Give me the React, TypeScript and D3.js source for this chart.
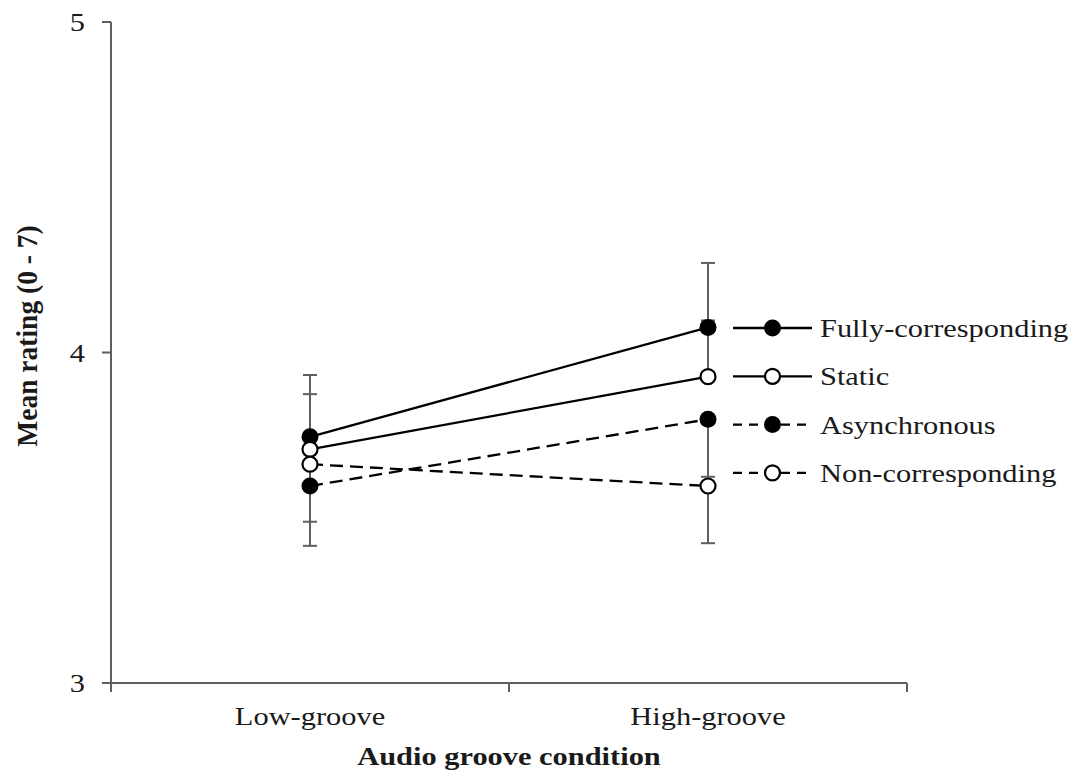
import * as d3 from 'd3';
import { type FC } from 'react';

// groove conditions on the x axis
const conditions = ['Low-groove', 'High-groove'];

// mean ratings
const fullyMeans = [3.745, 4.076];
const staticMeans = [3.707, 3.927];
const asyncMeans = [3.596, 3.798];
const nonCorrMeans = [3.662, 3.596];

// one-sided error bars (upper for solid series, lower for dashed)
const fullyErr = [0.187, 0.195];
const staticErr = [0.167, 0.17];
const asyncErr = [0.181, 0.174];
const nonCorrErr = [0.174, 0.173];

const yTicks = [3, 4, 5];

interface Series {
  name: string;
  means: number[];
  err: number[];
  errDir: 1 | -1;
  filled: boolean;
  dashed: boolean;
}

const series: Series[] = [
  { name: 'Fully-corresponding', means: fullyMeans, err: fullyErr, errDir: 1, filled: true, dashed: false },
  { name: 'Static', means: staticMeans, err: staticErr, errDir: 1, filled: false, dashed: false },
  { name: 'Asynchronous', means: asyncMeans, err: asyncErr, errDir: -1, filled: true, dashed: true },
  { name: 'Non-corresponding', means: nonCorrMeans, err: nonCorrErr, errDir: -1, filled: false, dashed: true },
];

const W = 1076;
const H = 771;
const SX = 1.17; // the original figure is stretched horizontally
const FONT = '"Liberation Serif", "Times New Roman", serif';
const AXIS = '#5f5f5f';
const INK = '#1a1a1a';
const DASH = '13,7';

const App: FC = () => {
  const x = d3.scaleBand<string>().domain(conditions).range([111, 907]).padding(0);
  const y = d3.scaleLinear().domain([3, 5]).range([683, 22]);
  const cx = (c: string) => (x(c) ?? 0) + x.bandwidth() / 2;

  const line = d3
    .line<number>()
    .x((_, i) => cx(conditions[i]))
    .y((d) => y(d));

  const legendX0 = 733;
  const legendX1 = 812;
  const legendY0 = 328;
  const legendStep = 48.3;

  const marker = (s: Series, px: number, py: number, key: string) => (
    <circle
      key={key}
      cx={px}
      cy={py}
      r={s.filled ? 8.5 : 7.5}
      fill={s.filled ? '#000' : '#fff'}
      stroke="#000"
      strokeWidth={s.filled ? 0 : 2.2}
    />
  );

  return (
    <svg
      width={W}
      height={H}
      style={{ position: 'absolute', left: 0, top: 0, background: '#fff' }}
      fontFamily={FONT}
    >
      {/* y axis */}
      <line x1={111} x2={111} y1={y(5)} y2={y(3) + 9} stroke={AXIS} strokeWidth={2} />
      {yTicks.map((t) => (
        <g key={t}>
          <line x1={102} x2={111} y1={y(t)} y2={y(t)} stroke={AXIS} strokeWidth={2} />
          <text
            transform={`translate(85,${y(t) + 9}) scale(${SX},1)`}
            textAnchor="end"
            fontSize={26}
            fill={INK}
          >
            {t}
          </text>
        </g>
      ))}

      {/* x axis */}
      <line x1={102} x2={907} y1={y(3)} y2={y(3)} stroke={AXIS} strokeWidth={2} />
      {[...conditions.map((c) => x(c) ?? 0), 907].map((b, i) => (
        <line key={i} x1={b} x2={b} y1={y(3)} y2={y(3) + 9} stroke={AXIS} strokeWidth={2} />
      ))}
      {conditions.map((c) => (
        <text
          key={c}
          transform={`translate(${cx(c)},725) scale(${SX},1)`}
          textAnchor="middle"
          fontSize={26}
          fill={INK}
        >
          {c}
        </text>
      ))}
      <text
        transform={`translate(${(111 + 907) / 2},765) scale(${SX},1)`}
        textAnchor="middle"
        fontSize={26}
        fontWeight="bold"
        fill={INK}
      >
        Audio groove condition
      </text>
      <text
        transform={`translate(37,336) rotate(-90) scale(1.1,1.17)`}
        textAnchor="middle"
        fontSize={25}
        fontWeight="bold"
        fill={INK}
      >
        Mean rating (0 - 7)
      </text>

      {/* series lines */}
      {series.map((s) => (
        <path
          key={s.name}
          d={line(s.means) ?? ''}
          fill="none"
          stroke="#000"
          strokeWidth={2.3}
          strokeDasharray={s.dashed ? DASH : undefined}
        />
      ))}

      {/* error bars */}
      {series.map((s) =>
        s.means.map((m, i) => {
          const px = cx(conditions[i]);
          const end = y(m + s.errDir * s.err[i]);
          return (
            <g key={`${s.name}-e${i}`} stroke={AXIS} strokeWidth={2}>
              <line x1={px} x2={px} y1={y(m)} y2={end} />
              <line x1={px - 7} x2={px + 7} y1={end} y2={end} />
            </g>
          );
        }),
      )}

      {/* markers */}
      {series.map((s) => s.means.map((m, i) => marker(s, cx(conditions[i]), y(m), `${s.name}-m${i}`)))}

      {/* legend */}
      {series.map((s, k) => {
        const ly = legendY0 + k * legendStep;
        return (
          <g key={`lg-${s.name}`}>
            <line
              x1={legendX0}
              x2={legendX1}
              y1={ly}
              y2={ly}
              stroke="#000"
              strokeWidth={2.3}
              strokeDasharray={s.dashed ? '9,7' : undefined}
            />
            {marker(s, (legendX0 + legendX1) / 2, ly, `lgm-${s.name}`)}
            <text
              transform={`translate(820,${ly + 9}) scale(${SX},1)`}
              fontSize={26}
              fill={INK}
            >
              {s.name}
            </text>
          </g>
        );
      })}
    </svg>
  );
};

export default App;
